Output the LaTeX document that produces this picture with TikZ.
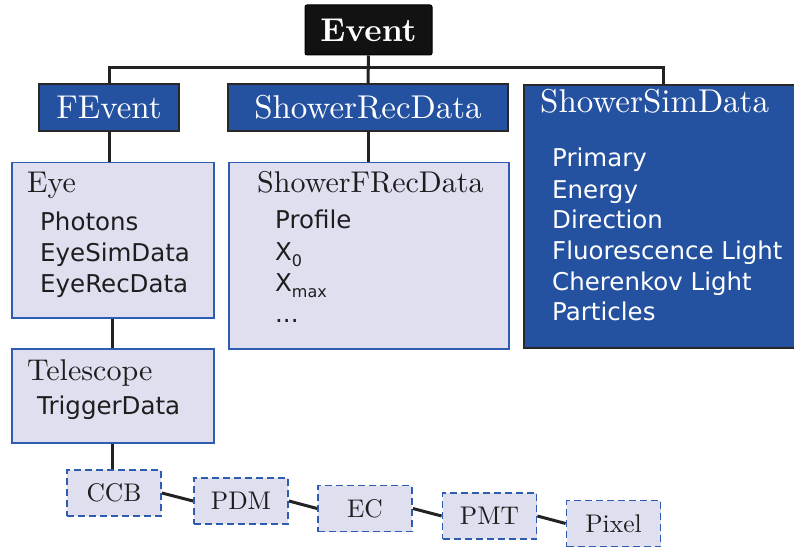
\documentclass[tikz,border=0pt]{standalone}
\usepackage{fontspec}
\setmainfont{lmroman10-regular.otf}[BoldFont=lmroman10-bold.otf]
\newfontfamily\dejavu{DejaVu Sans}
\definecolor{hdrblue}{RGB}{36,81,160}
\definecolor{hdrline}{RGB}{40,40,40}
\definecolor{panelfill}{RGB}{223,223,240}
\definecolor{panelline}{RGB}{46,92,176}
\definecolor{wire}{RGB}{34,34,34}
\definecolor{ink}{RGB}{30,30,30}
\begin{document}
\begin{tikzpicture}[x=1pt,y=-1pt,
  wirestyle/.style={draw=wire, line width=3pt},
  topbox/.style={draw=black, fill=black!93, rounded corners=2pt, line width=1pt, inner sep=0pt,
    text=white, font=\fontsize{33}{35}\selectfont\bfseries},
  hdr/.style={draw=hdrline, fill=hdrblue, line width=1.8pt, inner sep=0pt, text=white,
    font=\fontsize{33}{35}\selectfont},
  panel/.style={draw=panelline, fill=panelfill, line width=1.5pt, inner sep=0pt},
  part/.style={panel, line width=1.8pt, dash pattern=on 7pt off 4pt, minimum width=94pt, minimum height=46pt,
    text=ink, font=\fontsize{25.5}{27}\selectfont},
  ttl/.style={anchor=base west, inner sep=0pt, text=ink, font=\fontsize{30}{32}\selectfont},
  itm/.style={anchor=base west, inner sep=0pt, text=ink, font=\dejavu\fontsize{24.5}{26}\selectfont},
  wtl/.style={ttl, text=white, font=\fontsize{33}{35}\selectfont},
  witm/.style={itm, text=white},
]
\useasboundingbox (0,0) rectangle (794,548);

% top-level event
\node[topbox, minimum width=127pt, minimum height=50pt] (Event) at (368.5,30) {Event};

% second-level headers
\node[hdr, minimum width=140pt, minimum height=47pt] (FEvent) at (109,107.5) {FEvent};
\node[hdr, minimum width=280pt, minimum height=47pt] (ShowerRecData) at (368,107.5) {ShowerRecData};
\node[hdr, anchor=north west, minimum width=280pt, minimum height=263pt] (ShowerSimData) at (523,84) {};
\node[wtl] at (540,113) {ShowerSimData};
\node[witm] at (552,167) {Primary};
\node[witm] at (552,198) {Energy};
\node[witm] at (552,228) {Direction};
\node[witm] at (552,259) {Fluorescence Light};
\node[witm] at (552,290) {Cherenkov Light};
\node[witm] at (552,320) {Particles};

% detector branch
\node[panel, anchor=north west, minimum width=202pt, minimum height=155pt] (Eye) at (11,162) {};
\node[ttl] at (27,193) {Eye};
\node[itm] at (40,230) {Photons};
\node[itm] at (40,261) {EyeSimData};
\node[itm] at (40,292) {EyeRecData};

\node[panel, anchor=north west, minimum width=202pt, minimum height=94pt] (Telescope) at (11,348) {};
\node[ttl] at (27,380) {Telescope};
\node[itm] at (37,414) {TriggerData};

% reconstruction branch
\node[panel, anchor=north west, minimum width=280pt, minimum height=186pt] (ShowerFRecData) at (228,162) {};
\node[ttl] at (257,193) {ShowerFRecData};
\node[itm] at (275,228) {Profile};
\node[itm] at (275,260) {X\raisebox{-6pt}{\fontsize{16}{16}\selectfont 0}};
\node[itm] at (275,291) {X\raisebox{-6pt}{\fontsize{16}{16}\selectfont max}};
\node[itm] at (275,322) {...};

% camera hierarchy
\node[part] (CCB) at (114,493) {CCB};
\node[part] (PDM) at (241,501) {PDM};
\node[part] (EC) at (365,508.5) {EC};
\node[part] (PMT) at (489.5,516) {PMT};
\node[part] (Pixel) at (613.5,523.5) {Pixel};

% connectors
\coordinate (bus) at (0,68);
\draw[wirestyle] (Event.south) -- (ShowerRecData.north);
\draw[wirestyle] (FEvent.north) |- (bus -| ShowerSimData.north) -- (ShowerSimData.north);
\draw[wirestyle] (FEvent.south) -- (FEvent.south |- Eye.north);
\draw[wirestyle] (Eye.south) -- (Telescope.north);
\draw[wirestyle] (Telescope.south) -- (Telescope.south |- CCB.north);
\draw[wirestyle] (ShowerRecData.south) -- (ShowerRecData.south |- ShowerFRecData.north);
\draw[wirestyle] (CCB.east) -- (PDM.west);
\draw[wirestyle] (PDM.east) -- (EC.west);
\draw[wirestyle] (EC.east) -- (PMT.west);
\draw[wirestyle] (PMT.east) -- (Pixel.west);
\end{tikzpicture}
\end{document}
